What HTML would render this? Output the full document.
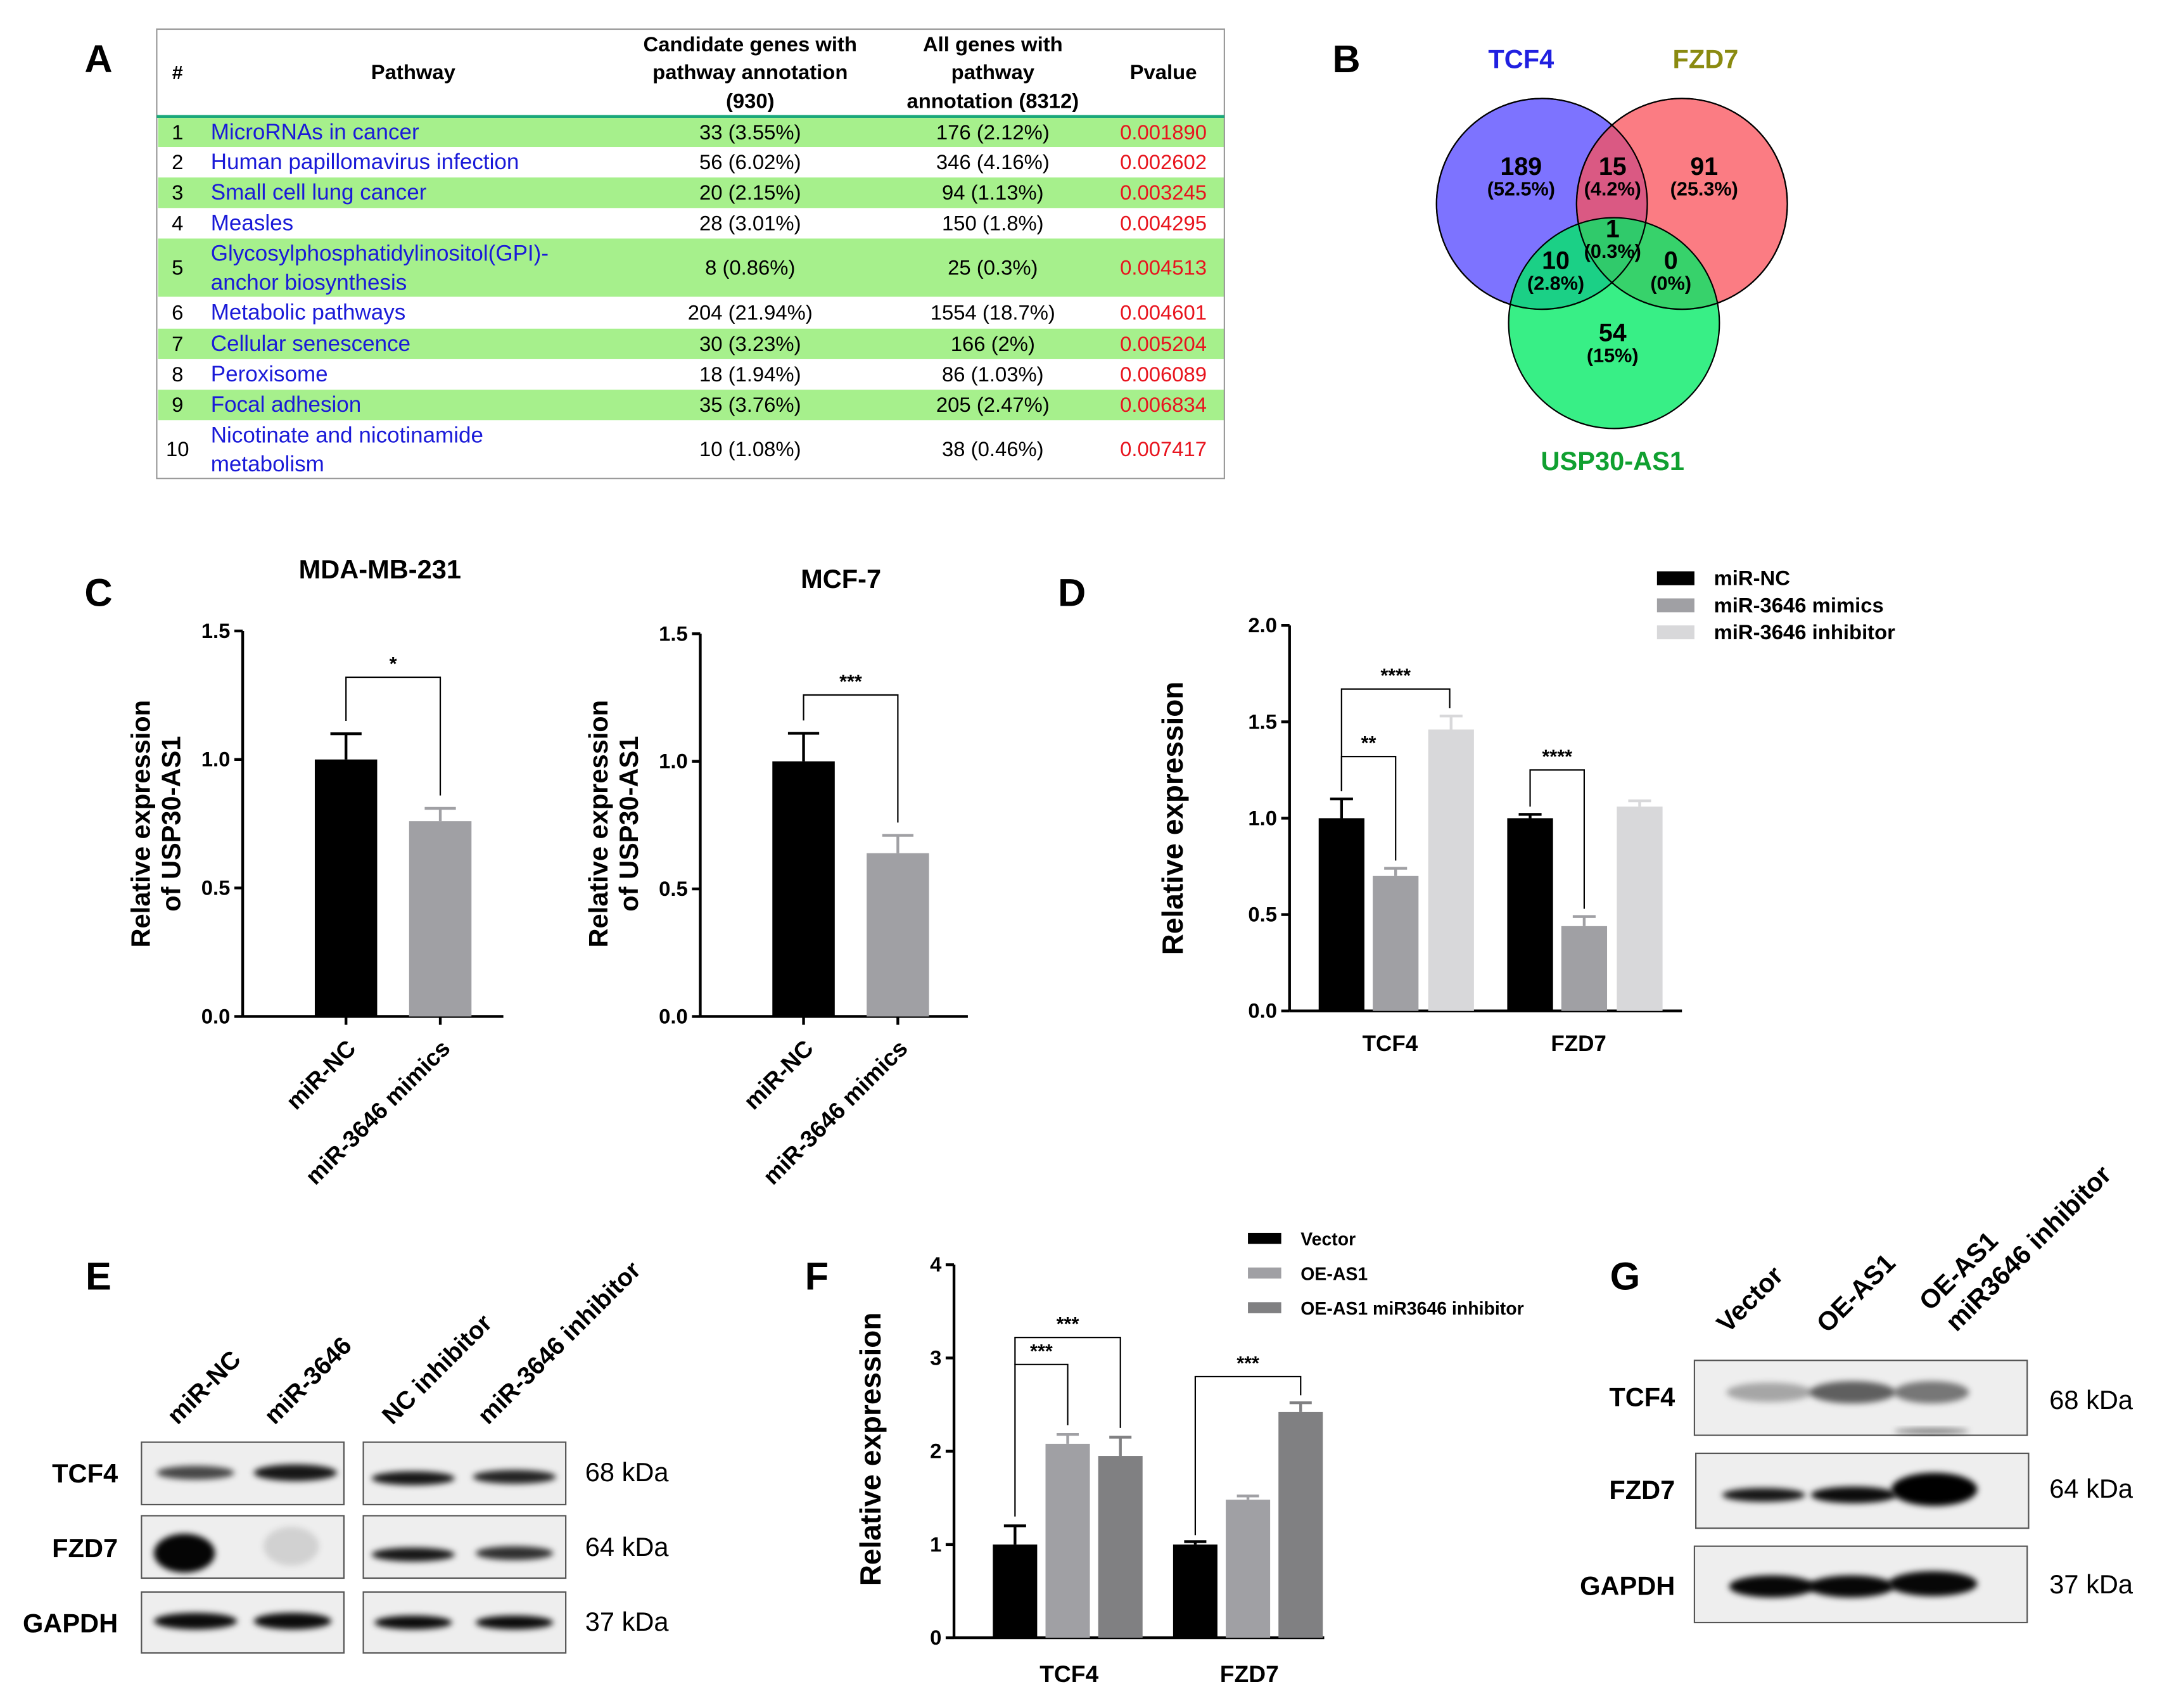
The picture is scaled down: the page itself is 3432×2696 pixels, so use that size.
<!DOCTYPE html>
<html><head><meta charset="utf-8">
<style>
html,body{margin:0;padding:0;background:#fff;}
svg{display:block;font-family:"Liberation Sans",Arial,sans-serif;}
</style></head>
<body>
<svg id="fig" width="3432" height="2696" viewBox="0 0 1560 1225.5" xmlns="http://www.w3.org/2000/svg">
<defs>
<filter id="blur" x="-20%" y="-50%" width="140%" height="200%"><feGaussianBlur stdDeviation="2.2"/></filter>
</defs>
<g id="root" transform="scale(0.995)"></g>
</svg>
<script>
// ---------- DATA ----------
const tableRows = [
 ["1",["MicroRNAs in cancer"],"33 (3.55%)","176 (2.12%)","0.001890"],
 ["2",["Human papillomavirus infection"],"56 (6.02%)","346 (4.16%)","0.002602"],
 ["3",["Small cell lung cancer"],"20 (2.15%)","94 (1.13%)","0.003245"],
 ["4",["Measles"],"28 (3.01%)","150 (1.8%)","0.004295"],
 ["5",["Glycosylphosphatidylinositol(GPI)-","anchor biosynthesis"],"8 (0.86%)","25 (0.3%)","0.004513"],
 ["6",["Metabolic pathways"],"204 (21.94%)","1554 (18.7%)","0.004601"],
 ["7",["Cellular senescence"],"30 (3.23%)","166 (2%)","0.005204"],
 ["8",["Peroxisome"],"18 (1.94%)","86 (1.03%)","0.006089"],
 ["9",["Focal adhesion"],"35 (3.76%)","205 (2.47%)","0.006834"],
 ["10",["Nicotinate and nicotinamide","metabolism"],"10 (1.08%)","38 (0.46%)","0.007417"]
];
const c1Categories = ["miR-NC","miR-3646 mimics"];
const c1Values = [1.0, 0.76];
const c1Errors = [0.10, 0.05];
const c2Categories = ["miR-NC","miR-3646 mimics"];
const c2Values = [1.0, 0.64];
const c2Errors = [0.11, 0.07];
const cTicks = [0.0, 0.5, 1.0, 1.5];
const dGroups = ["TCF4","FZD7"];
const dSeries = ["miR-NC","miR-3646 mimics","miR-3646 inhibitor"];
const dValuesNC = [1.0, 1.0];
const dValuesMimics = [0.70, 0.44];
const dValuesInhib = [1.46, 1.06];
const dErrNC = [0.10, 0.02];
const dErrMimics = [0.04, 0.05];
const dErrInhib = [0.07, 0.03];
const dTicks = [0.0, 0.5, 1.0, 1.5, 2.0];
const fGroups = ["TCF4","FZD7"];
const fSeries = ["Vector","OE-AS1","OE-AS1 miR3646 inhibitor"];
const fValuesVector = [1.0, 1.0];
const fValuesOE = [2.08, 1.48];
const fValuesOEInhib = [1.95, 2.42];
const fErrVector = [0.2, 0.03];
const fErrOE = [0.1, 0.04];
const fErrOEInhib = [0.2, 0.1];
const fTicks = [0, 1, 2, 3, 4];

// ---------- HELPERS ----------
const NS="http://www.w3.org/2000/svg";
const root=document.getElementById('root');
function el(tag, attrs, parent, text){
  const e=document.createElementNS(NS,tag);
  for(const k in attrs) e.setAttribute(k,attrs[k]);
  if(text!==undefined) e.textContent=text;
  (parent||root).appendChild(e);
  return e;
}
function txt(x,y,s,opts,parent){
  opts=opts||{};
  const t=el('text',{x:x,y:y,'font-size':opts.size||14,'text-anchor':opts.anchor||'middle',
    fill:opts.fill||'#000','font-weight':opts.weight||'normal'},parent,s);
  if(opts.rot!==undefined) t.setAttribute('transform',`rotate(${opts.rot} ${x} ${y})`);
  return t;
}

// ---------- PANEL LETTERS ----------
[["A",71,52],["B",971,52],["C",71,437],["D",773,437],["E",71,930],["F",589,930],["G",1172,930]].forEach(p=>{
  const t=txt(p[1],p[2],p[0],{size:28,weight:'bold'});
  
  
});

// ---------- PANEL A TABLE ----------
const tbl=el('g',{});


const rowBounds=[[85,106],[106,128],[128,150],[150,172],[172,214],[214,237],[237,259],[259,281],[281,303],[303,345]];
rowBounds.forEach((b,i)=>{
  if(i%2===0){ const r=el('rect',{x:114,y:b[0],width:769,height:b[1]-b[0],fill:'#a6f08c'},tbl);
      }
});
el('rect',{x:113,y:21,width:770,height:324,fill:'none',stroke:'#999','stroke-width':1},tbl);
el('line',{x1:113,y1:84,x2:883,y2:84,stroke:'#1aa87a','stroke-width':2},tbl);
txt(128,57,"#",{size:14,weight:'bold'},tbl);
txt(298,57,"Pathway",{size:15,weight:'bold'},tbl);
txt(541,37,"Candidate genes with",{size:15,weight:'bold'},tbl);
txt(541,57,"pathway annotation",{size:15,weight:'bold'},tbl);
txt(541,78,"(930)",{size:15,weight:'bold'},tbl);
txt(716,37,"All genes with",{size:15,weight:'bold'},tbl);
txt(716,57,"pathway",{size:15,weight:'bold'},tbl);
txt(716,78,"annotation (8312)",{size:15,weight:'bold'},tbl);
txt(839,57,"Pvalue",{size:15,weight:'bold'},tbl);
tableRows.forEach((r,i)=>{
  const b=rowBounds[i]; const cy=(b[0]+b[1])/2+5;
  txt(128,cy,r[0],{size:15},tbl);
  if(r[1].length===1){ const t=txt(152,cy,r[1][0],{size:16,anchor:'start',fill:'#1a1ad8'},tbl);
      }
  else { txt(152,cy-10,r[1][0],{size:16,anchor:'start',fill:'#1a1ad8'},tbl);
    txt(152,cy+11,r[1][1],{size:16,anchor:'start',fill:'#1a1ad8'},tbl); }
  txt(541,cy,r[2],{size:15},tbl);
  txt(716,cy,r[3],{size:15},tbl);
  txt(839,cy,r[4],{size:15,fill:'#e8141e'},tbl);
});

// ---------- PANEL B VENN ----------
const venn=el('g',{});


const c1=el('circle',{cx:1112,cy:147,r:76,fill:'rgb(125,115,255)',stroke:'#000','stroke-width':1},venn);
 
const c2=el('circle',{cx:1213,cy:147,r:76,fill:'rgb(250,80,90)','fill-opacity':0.75,stroke:'#000','stroke-width':1},venn);
 
const c3=el('circle',{cx:1164,cy:233,r:76,fill:'rgb(0,235,100)','fill-opacity':0.78,stroke:'#000','stroke-width':1},venn);
 
el('circle',{cx:1112,cy:147,r:76,fill:'none',stroke:'#000','stroke-width':1},venn);
el('circle',{cx:1213,cy:147,r:76,fill:'none',stroke:'#000','stroke-width':1},venn);
txt(1097,49,"TCF4",{size:19,weight:'bold',fill:'#2020e0'},venn);
txt(1230,49,"FZD7",{size:19,weight:'bold',fill:'#8a8a10'},venn);
txt(1163,339,"USP30-AS1",{size:19,weight:'bold',fill:'#10a030'},venn);
[[1097,126,"189","(52.5%)"],[1163,126,"15","(4.2%)"],[1229,126,"91","(25.3%)"],
 [1163,171,"1","(0.3%)"],[1122,194,"10","(2.8%)"],[1205,194,"0","(0%)"],[1163,246,"54","(15%)"]].forEach(v=>{
  txt(v[0],v[1],v[2],{size:18,weight:'bold'},venn);
  txt(v[0],v[1]+15,v[3],{size:14,weight:'bold'},venn);
});

// ---------- BAR CHART FUNCTION ----------
function barChart(cfg){
  const g=el('g',{});
  
  
  const y=v=>cfg.y0-(v-cfg.tmin)/(cfg.tmax-cfg.tmin)*(cfg.y0-cfg.ytop);
  el('line',{x1:cfg.x0,y1:cfg.ytop,x2:cfg.x0,y2:cfg.y0,stroke:'#000','stroke-width':2},g);
  el('line',{x1:cfg.x0,y1:cfg.y0,x2:cfg.xend,y2:cfg.y0,stroke:'#000','stroke-width':2},g);
  cfg.ticks.forEach(t=>{
    el('line',{x1:cfg.x0-6,y1:y(t),x2:cfg.x0,y2:y(t),stroke:'#000','stroke-width':2},g);
    const tl=txt(cfg.x0-9,y(t)+5,cfg.tickFmt(t),{size:15,weight:'bold',anchor:'end'},g);
     
  });
  cfg.bars.forEach(b=>{
    const r=el('rect',{x:b.x,y:y(b.v),width:b.w,height:y(cfg.tmin)-y(b.v),fill:b.color},g);
    
    
    const cx=b.x+b.w/2, top=y(b.v+b.e);
    const e1=el('line',{x1:cx,y1:y(b.v),x2:cx,y2:top,stroke:b.color,'stroke-width':2},g);
     
    el('line',{x1:cx-b.w/4,y1:top,x2:cx+b.w/4,y2:top,stroke:b.color,'stroke-width':2},g);
  });
  (cfg.sig||[]).forEach(s=>{
    const by=y(s.level);
    const br=el('polyline',{points:`${s.x1},${y(s.l1)} ${s.x1},${by} ${s.x2},${by} ${s.x2},${y(s.l2)}`,fill:'none',stroke:'#000','stroke-width':1},g);
     
    txt((s.x1+s.x2)/2,by-5,s.label,{size:14,weight:'bold'},g);
  });
  return {g:g,y:y};
}

// ---------- PANEL C ----------
function cChart(name,x0,ytop,xend,title,titleY,cats,vals,errs,label,sigY,labx){
  const xs=[x0+52,x0+120], w=45;
  const bars=vals.map((v,i)=>({x:xs[i],w:w,v:v,e:errs[i],color:i===0?'#000':'#a0a0a4',name:'bar-'+(i===0?'mir-nc':'mimics')}));
  const ch=barChart({name:name,x0:x0,y0:733,ytop:ytop,xend:xend,tmin:0,tmax:1.5,ticks:cTicks,tickFmt:t=>t.toFixed(1),bars:bars,
    sig:[{x1:xs[0]+w/2,x2:xs[1]+w/2,level:sigY,l1:vals[0]+errs[0]+0.05,l2:vals[1]+errs[1]+0.05,label:label}]});
  txt((x0+xend)/2+5,titleY,title,{size:19,weight:'bold'},ch.g);
  cats.forEach((c,i)=>{
    const cx=xs[i]+w/2+1, cy=750;
    el('line',{x1:xs[i]+w/2,y1:733,x2:xs[i]+w/2,y2:739,stroke:'#000','stroke-width':2},ch.g);
    const t=txt(cx,cy,c,{size:17,weight:'bold',anchor:'end',rot:-45},ch.g);
    t.setAttribute('dy','10');
  });
  txt(labx,594,"Relative expression",{size:19,weight:'bold',rot:-90},ch.g);
  txt(labx+22,594,"of USP30-AS1",{size:19,weight:'bold',rot:-90},ch.g);
}
cChart('chart-c-mda',175,455,363,"MDA-MB-231",417,c1Categories,c1Values,c1Errors,"*",1.32,108);
cChart('chart-c-mcf7',505,457,698,"MCF-7",424,c2Categories,c2Values,c2Errors,"***",1.26,438);

// ---------- PANEL D ----------
(function(){
  const gx=[951,1087], w=33, gap=6;
  const colors=['#000','#a0a0a4','#d8d8da'];
  const vals=[dValuesNC,dValuesMimics,dValuesInhib], errs=[dErrNC,dErrMimics,dErrInhib];
  const bars=[];
  dGroups.forEach((gname,gi)=>{ vals.forEach((s,si)=>{
    bars.push({x:gx[gi]+si*(w+gap)+(si===2?1:0),w:w,v:s[gi],e:errs[si][gi],color:colors[si],name:'bar-'+gname.toLowerCase()+'-'+si});
  });});
  const cx=(gi,si)=>gx[gi]+si*(w+gap)+w/2;
  const ch=barChart({name:'chart-d',x0:930,y0:729,ytop:451,xend:1213,tmin:0,tmax:2.0,ticks:dTicks,tickFmt:t=>t.toFixed(1),bars:bars,
    sig:[{x1:cx(0,0),x2:cx(0,1),level:1.32,l1:1.14,l2:0.78,label:'**'},
         {x1:cx(0,0),x2:cx(0,2),level:1.67,l1:1.14,l2:1.57,label:'****'},
         {x1:cx(1,0),x2:cx(1,1),level:1.25,l1:1.06,l2:0.53,label:'****'}]});
  dGroups.forEach((gname,gi)=>{
    const c=gx[gi]+(3*w+2*gap)/2;
    txt(c-4,758,gname,{size:16,weight:'bold'},ch.g);
  });
  txt(853,590,"Relative expression",{size:21,weight:'bold',rot:-90},ch.g);
  dSeries.forEach((s,i)=>{
    const ly=417+i*19.5;
    const lr=el('rect',{x:1195,y:ly-5,width:27,height:10,fill:colors[i]},ch.g);
     
    const lt=txt(1236,ly+5,s,{size:15,weight:'bold',anchor:'start'},ch.g);
     
  });
})();

// ---------- PANEL F ----------
(function(){
  const gx=[716,846], w=32, gap=6;
  const colors=['#000','#a0a0a4','#808082'];
  const vals=[fValuesVector,fValuesOE,fValuesOEInhib], errs=[fErrVector,fErrOE,fErrOEInhib];
  const bars=[];
  fGroups.forEach((gname,gi)=>{ vals.forEach((s,si)=>{
    bars.push({x:gx[gi]+si*(w+gap),w:w,v:s[gi],e:errs[si][gi],color:colors[si],name:'bar-'+gname.toLowerCase()+'-'+si});
  });});
  const cx=(gi,si)=>gx[gi]+si*(w+gap)+w/2;
  const ch=barChart({name:'chart-f',x0:688,y0:1181,ytop:912,xend:955,tmin:0,tmax:4,ticks:fTicks,tickFmt:t=>String(t),bars:bars,
    sig:[{x1:cx(0,0),x2:cx(0,1),level:2.93,l1:1.3,l2:2.28,label:'***'},
         {x1:cx(0,0),x2:cx(0,2),level:3.22,l1:2.93,l2:2.25,label:'***'},
         {x1:cx(1,0),x2:cx(1,2),level:2.8,l1:1.1,l2:2.6,label:'***'}]});
  fGroups.forEach((gname,gi)=>{
    txt(gx[gi]+(3*w+2*gap)/2+1,1213,gname,{size:17,weight:'bold'},ch.g);
  });
  txt(635,1045,"Relative expression",{size:21,weight:'bold',rot:-90},ch.g);
  fSeries.forEach((s,i)=>{
    const ly=893+i*25;
    const lr=el('rect',{x:900,y:ly-4,width:24,height:8,fill:colors[i]},ch.g);
     
    const lt=txt(938,ly+5,s,{size:13,weight:'bold',anchor:'start'},ch.g);
     
  });
})();

// ---------- WESTERN BLOTS ----------
function blotBox(name,x,y,w,h,bands,parent){
  const g=el('g',{},parent);
  
  
  el('rect',{x:x,y:y,width:w,height:h,fill:'#eeeeee',stroke:'#555','stroke-width':1},g);
  bands.forEach(b=>{
    el('ellipse',{cx:b[0],cy:b[1],rx:b[2],ry:b[3],fill:'#000','fill-opacity':b[4],filter:'url(#blur)'},g);
  });
}
const gE=el('g',{});  
blotBox('blot-e-tcf4-1',102,1040,146,45,[[141,1062,28,5,0.7],[213,1062,30,6,0.9]],gE);
blotBox('blot-e-fzd7-1',102,1093,146,45,[[133,1120,22,14,0.98],[210,1115,20,14,0.12]],gE);
blotBox('blot-e-gapdh-1',102,1148,146,44,[[141,1169,30,6,0.95],[211,1169,28,6,0.95]],gE);
blotBox('blot-e-tcf4-2',262,1040,146,45,[[298,1066,30,5,0.9],[371,1065,30,5,0.85]],gE);
blotBox('blot-e-fzd7-2',262,1093,146,45,[[298,1121,30,5,0.9],[371,1120,28,5,0.8]],gE);
blotBox('blot-e-gapdh-2',262,1148,146,44,[[298,1170,28,5,0.95],[371,1170,28,5,0.95]],gE);
[["TCF4",1069],["FZD7",1123],["GAPDH",1177]].forEach(r=>txt(85,r[1],r[0],{size:19,weight:'bold',anchor:'end'},gE));
[["68 kDa",1068],["64 kDa",1122],["37 kDa",1176]].forEach(r=>txt(422,r[1],r[0],{size:19,anchor:'start'},gE));
[["miR-NC",128],["miR-3646",198],["NC inhibitor",283],["miR-3646 inhibitor",352]].forEach(c=>
  txt(c[1],1028,c[0],{size:18,weight:'bold',anchor:'start',rot:-45},gE));
const gG=el('g',{});  
blotBox('blot-g-tcf4',1222,981,240,54,[[1276,1004,31,7,0.3],[1336,1004,31,8,0.6],[1393,1004,27,8,0.5],[1393,1032,27,2,0.5]],gG);
blotBox('blot-g-fzd7',1223,1048,240,54,[[1272,1078,30,5,0.9],[1337,1078,31,6,0.95],[1395,1074,31,12,1]],gG);
blotBox('blot-g-gapdh',1222,1115,240,55,[[1278,1144,31,8,0.97],[1335,1144,31,8,0.97],[1394,1142,32,9,0.97]],gG);
[["TCF4",1014],["FZD7",1081],["GAPDH",1150]].forEach(r=>txt(1208,r[1],r[0],{size:19,weight:'bold',anchor:'end'},gG));
[["68 kDa",1016],["64 kDa",1080],["37 kDa",1149]].forEach(r=>txt(1478,r[1],r[0],{size:19,anchor:'start'},gG));
[["Vector",1246,962],["OE-AS1",1318,962]].forEach(c=>txt(c[1],c[2],c[0],{size:19,weight:'bold',anchor:'start',rot:-45},gG));
txt(1392,946,"OE-AS1",{size:19,weight:'bold',anchor:'start',rot:-45},gG);
txt(1411,961,"miR3646 inhibitor",{size:19,weight:'bold',anchor:'start',rot:-45},gG);
</script>
</body></html>
